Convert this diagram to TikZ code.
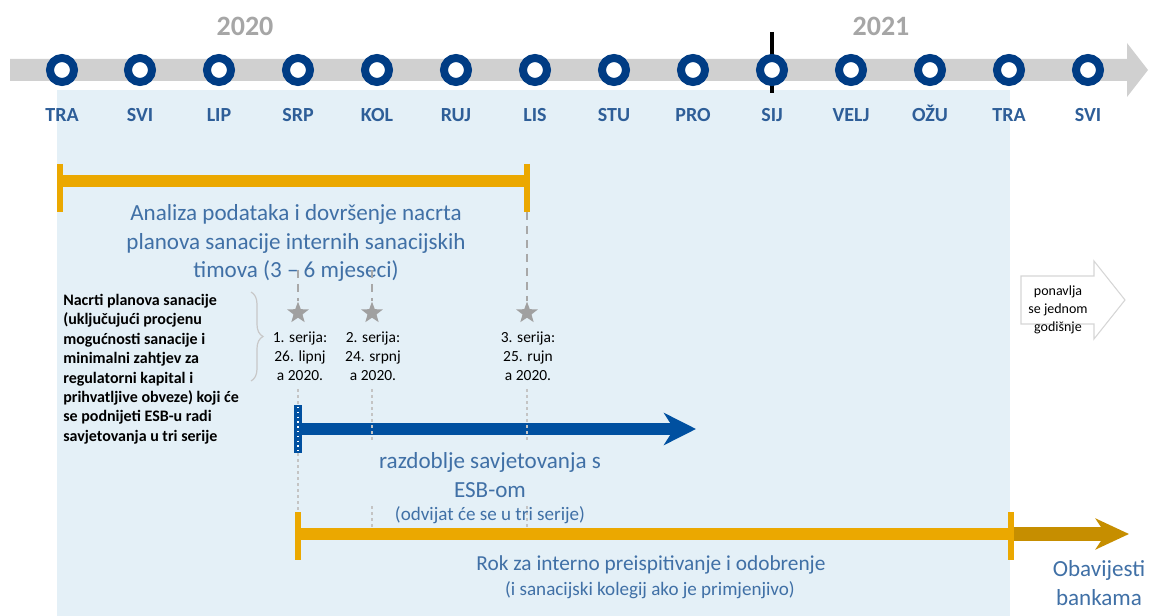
\documentclass[tikz,border=0pt]{standalone}
\usepackage{fontspec}
\setmainfont{Carlito}
\usetikzlibrary{arrows.meta,shapes.geometric,decorations.pathreplacing}
\definecolor{bgblue}{HTML}{E4F0F7}
\definecolor{barGrey}{HTML}{D0D0D0}
\definecolor{ringblue}{HTML}{003C84}
\definecolor{monthblue}{HTML}{2E5E98}
\definecolor{txtblue}{HTML}{4070A6}
\definecolor{orangeC}{HTML}{EBA800}
\definecolor{darkorange}{HTML}{C68E00}
\definecolor{arrowblue}{HTML}{0050A0}
\definecolor{yeargrey}{HTML}{A6A6A6}
\definecolor{starGrey}{HTML}{A0A0A0}
\definecolor{dashGrey}{HTML}{A8A8A8}
\definecolor{dotGrey}{HTML}{C4C4C4}
\definecolor{braceGrey}{HTML}{C8C8C8}
\definecolor{boxGrey}{HTML}{D6D6D6}
\begin{document}
\begin{tikzpicture}[x=0.75pt,y=-0.75pt,
  ring/.style={circle,draw=ringblue,line width=6pt,fill=white,minimum size=18pt,inner sep=0pt},
  month/.style={font=\fontsize{15}{18}\selectfont\bfseries,text=monthblue,inner sep=0pt,anchor=base},
  year/.style={font=\fontsize{21}{24}\selectfont\bfseries,text=yeargrey,inner sep=0pt},
  bigtxt/.style={text=txtblue,align=center,inner sep=0pt,font=\fontsize{17.3}{21.5}\selectfont},
  smalltxt/.style={text=txtblue,align=center,inner sep=0pt,font=\fontsize{14.3}{17}\selectfont},
  midtxt/.style={text=txtblue,align=center,inner sep=0pt,font=\fontsize{16}{19}\selectfont},
  serlabel/.style={align=center,inner sep=0pt,font=\fontsize{11.6}{14.4}\selectfont},
  desctxt/.style={align=left,inner sep=0pt,font=\fontsize{12}{14.6}\selectfont\bfseries},
  starnode/.style={star,star points=5,star point ratio=2.4,fill=starGrey,minimum size=17pt,inner sep=0pt},
  obar/.style={orangeC,line width=9pt},
  ocap/.style={orangeC,line width=4.8pt},
  dashline/.style={dashGrey,line width=1.8pt,dash pattern=on 6pt off 4.5pt},
  dotline/.style={dotGrey,line width=1pt,dash pattern=on 2.5pt off 2pt},
]
\useasboundingbox (0,0) rectangle (1149,616);
% background panel
\fill[bgblue] (57,90) rectangle (1010,616);
% grey timeline arrow
\fill[barGrey] (10,59) -- (1127,59) -- (1127,43) -- (1148,70) -- (1127,97) -- (1127,81) -- (10,81) -- cycle;
% year boundary tick
\coordinate (tickTop) at (772,32);
\coordinate (tickBot) at (772,93);
\draw[line width=2.3pt] (tickTop) -- (tickBot);
% months
\foreach \x/\m [count=\i] in {62/TRA,140/SVI,219/LIP,298/SRP,377/KOL,456/RUJ,535/LIS,614/STU,693/PRO,772/SIJ,851/VELJ,930/OŽU,1009/TRA,1088/SVI}{
  \node[ring] (m\i) at (\x,70) {};
  \node[month] (l\i) at (\x,121.5) {\m};
}
\node[year] (y2020) at (245,26) {2020};
\node[year] (y2021) at (881,26) {2021};

% first orange bar
\coordinate (a1) at (57,181);
\coordinate (a2) at (527,181);
\draw[obar] (a1) -- (a2);
\coordinate (c1t) at (60,164); \coordinate (c1b) at (60,212);
\coordinate (c2t) at (527,164); \coordinate (c2b) at (527,212);
\draw[ocap] (c1t) -- (c1b);
\draw[ocap] (c2t) -- (c2b);

\node[bigtxt] (analiza) at (296,243) {Analiza podataka i dovršenje nacrta\\planova sanacije internih sanacijskih\\timova (3 -- 6 mjeseci)};

% stars
\node[starnode] (s1) at (298,313) {};
\node[starnode] (s2) at (372,313) {};
\node[starnode] (s3) at (527,313) {};
\coordinate (d1) at (298,270);
\coordinate (d2) at (372,270);
\draw[dashline] (d1) -- (s1.north);
\draw[dashline] (d2) -- (s2.north);
\draw[dashline] (c2b) -- (s3.north);

\node[serlabel] (t1) at (300,356) {1. serija:\\26. lipnj\\a 2020.};
\node[serlabel] (t2) at (373,356) {2. serija:\\24. srpnj\\a 2020.};
\node[serlabel] (t3) at (528,356) {3. serija:\\25. rujn\\a 2020.};

% brace and description
\coordinate (bt) at (251,292);
\coordinate (bb) at (251,381);
\draw[braceGrey,line width=0.9pt,decorate,decoration={brace,amplitude=9pt}] (bt) -- (bb);
\node[desctxt,anchor=west] (desc) at (63,369) {Nacrti planova sanacije\\(uključujući procjenu\\mogućnosti sanacije i\\minimalni zahtjev za\\regulatorni kapital i\\prihvatljive obveze) koji će\\se podnijeti ESB-u radi\\savjetovanja u tri serije};

% blue consultation arrow
\coordinate (b1) at (298,429);
\coordinate (b2) at (696,429);
\draw[arrowblue,line width=9pt,-{Stealth[length=24pt,width=24pt,inset=7.5pt]}] (b1) -- (b2);
\coordinate (bc1) at (298,405); \coordinate (bc2) at (298,453);
\draw[arrowblue,line width=6pt] (bc1) -- (bc2);
\draw[white,line width=0.9pt,dash pattern=on 1pt off 2.6pt] (298,407) -- (298,451);

% faint guide lines
\coordinate (g1a) at (298,389); \coordinate (g1b) at (298,405);
\coordinate (g1c) at (298,453); \coordinate (g1d) at (298,512);
\coordinate (g2a) at (372,389); \coordinate (g2b) at (372,440);
\coordinate (g2c) at (372,506); \coordinate (g2d) at (372,532);
\coordinate (g3a) at (527,389); \coordinate (g3b) at (527,440);
\coordinate (g3c) at (527,506); \coordinate (g3d) at (527,532);
\draw[dotline] (g1a) -- (g1b);
\draw[dotline] (g1c) -- (g1d);
\draw[dotline] (g2a) -- (g2b);
\draw[dotline] (g2c) -- (g2d);
\draw[dotline] (g3a) -- (g3b);
\draw[dotline] (g3c) -- (g3d);

\node[bigtxt] (razd) at (490,475) {razdoblje savjetovanja s\\ESB-om};
\node[smalltxt] (odv) at (490,515) {(odvijat će se u tri serije)};

% second orange bar and notification arrow
\coordinate (o1) at (298,534);
\coordinate (o2) at (1011,534);
\coordinate (o3) at (1129,534);
\draw[darkorange,line width=10pt,-{Stealth[length=25pt,width=23pt,inset=7.5pt]}] (o2) -- (o3);
\draw[obar] (o1) -- (o2);
\coordinate (c3t) at (298,512); \coordinate (c3b) at (298,560);
\coordinate (c4t) at (1011,512); \coordinate (c4b) at (1011,560);
\draw[ocap] (c3t) -- (c3b);
\draw[ocap] (c4t) -- (c4b);

\node[midtxt] (rok) at (651,565) {Rok za interno preispitivanje i odobrenje};
\node[smalltxt] (kol) at (650,590) {(i sanacijski kolegij ako je primjenjivo)};
\node[bigtxt] (obav) at (1099,583) {Obavijesti\\bankama};

% repeating arrow box
\draw[boxGrey,fill=white,line width=0.8pt] (1021,276) -- (1094,276) -- (1094,261) -- (1125,300) -- (1094,339) -- (1094,324) -- (1021,324) -- cycle;
\node[serlabel,font=\fontsize{10.5}{13.5}\selectfont] (pon) at (1058,310) {ponavlja\\se jednom\\godišnje};
\end{tikzpicture}
\end{document}
